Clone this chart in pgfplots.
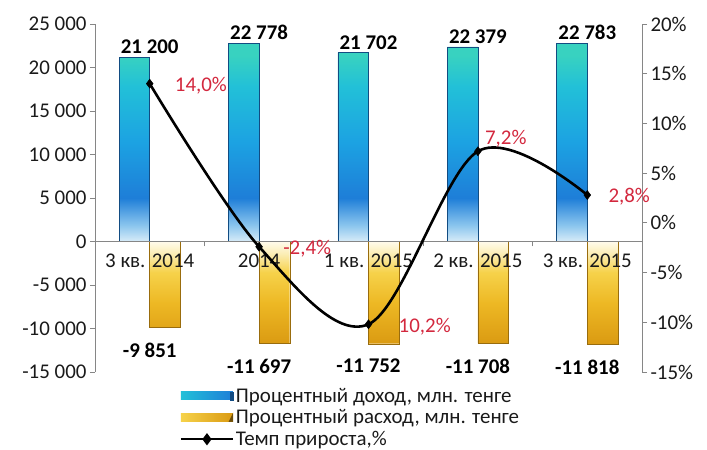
\documentclass[border=0pt]{standalone}
\usepackage{fontspec}
\setmainfont{Carlito}
\usepackage{pgfplots}
\pgfplotsset{compat=1.18}

\definecolor{pb1}{HTML}{D8ECF8}
\definecolor{pb2}{HTML}{8CC6EE}
\definecolor{pb3}{HTML}{1E7ED8}
\definecolor{pb4}{HTML}{1CA2E2}
\definecolor{pb5}{HTML}{22C0D8}
\definecolor{pb6}{HTML}{38D2C0}
\definecolor{nb1}{HTML}{DA9A12}
\definecolor{nb2}{HTML}{EDB824}
\definecolor{nb3}{HTML}{F6D24A}
\definecolor{nb4}{HTML}{FBEDB4}
\definecolor{nb5}{HTML}{FFFBEC}
\definecolor{axgray}{HTML}{868686}
\definecolor{lblred}{HTML}{D3283E}
\definecolor{txt}{HTML}{1A1A1A}

\pgfdeclareverticalshading{posbar}{100bp}{color(0bp)=(pb1); color(25bp)=(pb1); color(29bp)=(pb2); color(36bp)=(pb3); color(50bp)=(pb4); color(64bp)=(pb5); color(72bp)=(pb6); color(75bp)=(pb6); color(100bp)=(pb6)}
\pgfdeclareverticalshading{negbar}{100bp}{color(0bp)=(nb1); color(25bp)=(nb1); color(45bp)=(nb2); color(60bp)=(nb3); color(69bp)=(nb4); color(75bp)=(nb5); color(100bp)=(nb5)}

\newcommand{\chartfont}{\fontsize{21}{25}\selectfont}

\begin{document}
\begin{tikzpicture}
\useasboundingbox (-95bp,-78bp) rectangle (612bp,372bp);
\begin{axis}[
  at={(0,0)}, anchor=south west,
  scale only axis, width=547bp, height=348bp,
  xmin=-0.5, xmax=4.5,
  ymin=-15000, ymax=25000,
  scaled y ticks=false,
  axis on top,
  axis y line*=left,
  axis x line*=middle,
  axis line style={axgray, line width=0.9bp},
  xtick={0,1,2,3,4},
  xticklabels={3 кв. 2014, 2014, 1 кв. 2015, 2 кв. 2015, 3 кв. 2015},
  major x tick style={draw=none},
  minor xtick={0.5,1.5,2.5,3.5},
  minor x tick style={axgray, line width=0.8bp},
  minor tick length=5bp,
  xticklabel style={font=\chartfont, text=txt, yshift=-4bp},
  ytick={-15000,-10000,-5000,0,5000,10000,15000,20000,25000},
  yticklabels={-15 000,-10 000,-5 000,0,5 000,10 000,15 000,20 000,25 000},
  yticklabel style={font=\chartfont, text=txt},
  y tick style={axgray, line width=0.8bp},
  tick align=outside,
  major tick length=5bp,
  clip=false,
]
\addplot[ybar, bar width=0.28, bar shift=-0.14, shading=posbar, draw=pb3!60!black, line width=0.4bp,
  nodes near coords, point meta=explicit symbolic,
  every node near coord/.append style={font=\chartfont\bfseries, text=black, anchor=south, yshift=0bp}]
  coordinates {(0,21200)[21 200] (1,22778)[22 778] (2,21702)[21 702] (3,22379)[22 379] (4,22783)[22 783]};
\addplot[ybar, bar width=0.28, bar shift=0.14, shading=negbar, draw=nb1!70!black, line width=0.4bp,
  nodes near coords, point meta=explicit symbolic,
  every node near coord/.append style={font=\chartfont\bfseries, text=black, anchor=north, yshift=-12bp}]
  coordinates {(0,-9851)[-9 851] (1,-11697)[-11 697] (2,-11752)[-11 752] (3,-11708)[-11 708] (4,-11818)[-11 818]};
\end{axis}
\begin{axis}[
  at={(0,0)}, anchor=south west,
  scale only axis, width=547bp, height=348bp,
  xmin=-0.5, xmax=4.5,
  ymin=-15, ymax=20,
  axis y line*=right,
  axis x line=none,
  axis line style={axgray, line width=0.9bp},
  ytick={-15,-10,-5,0,5,10,15,20},
  yticklabels={-15\%,-10\%,-5\%,0\%,5\%,10\%,15\%,20\%},
  yticklabel style={font=\chartfont, text=txt},
  y tick style={axgray, line width=0.8bp},
  tick align=outside,
  major tick length=5bp,
  clip=false,
  legend style={at={(axis description cs:0.155,-0.04)}, anchor=north west,
    draw=none, fill=none, font=\chartfont, text=txt, inner sep=0pt,
    row sep=2bp, nodes={inner sep=2bp}},
  legend cell align=left,
]
\addlegendimage{legend image code/.code={\fill[left color=pb5, right color=pb3, draw=none] (0bp,-4bp) rectangle (52bp,4bp); \fill[pb3!60!black] (49bp,-4bp) rectangle (52bp,4bp);}}
\addlegendentry{Процентный доход, млн. тенге}
\addlegendimage{legend image code/.code={\fill[left color=nb3, right color=nb1, draw=none] (0bp,-4bp) rectangle (52bp,4bp); \fill[nb1!50!black] (48bp,-4bp) -- (52bp,4bp) -- (52bp,-4bp) -- cycle;}}
\addlegendentry{Процентный расход, млн. тенге}
\addplot[black, line width=2.6bp, smooth, tension=0.55, mark=diamond*, mark size=4.5bp,
  mark options={solid, line width=0.5bp},
  legend image code/.code={\draw[black, line width=2bp] (0bp,0bp) -- (52bp,0bp); \fill[black] (26bp,4bp) -- (29bp,0bp) -- (26bp,-4bp) -- (23bp,0bp) -- cycle;}]
  coordinates {(0,14.0) (1,-2.4) (2,-10.2) (3,7.2) (4,2.8)};
\addlegendentry{Темп прироста,\%}
\node[font=\chartfont, text=lblred, anchor=west, inner sep=0pt, xshift=25bp, yshift=-2bp] at (axis cs:0,14.0) {14,0\%};
\node[font=\chartfont, text=lblred, anchor=west, inner sep=0pt, xshift=24bp, yshift=-2bp] at (axis cs:1,-2.4) {-2,4\%};
\node[font=\chartfont, text=lblred, anchor=west, inner sep=0pt, xshift=30bp, yshift=-2bp] at (axis cs:2,-10.2) {10,2\%};
\node[font=\chartfont, text=lblred, anchor=west, inner sep=0pt, xshift=7bp, yshift=13bp] at (axis cs:3,7.2) {7,2\%};
\node[font=\chartfont, text=lblred, anchor=west, inner sep=0pt, xshift=21bp, yshift=-2bp] at (axis cs:4,2.8) {2,8\%};
\end{axis}
\end{tikzpicture}
\end{document}
